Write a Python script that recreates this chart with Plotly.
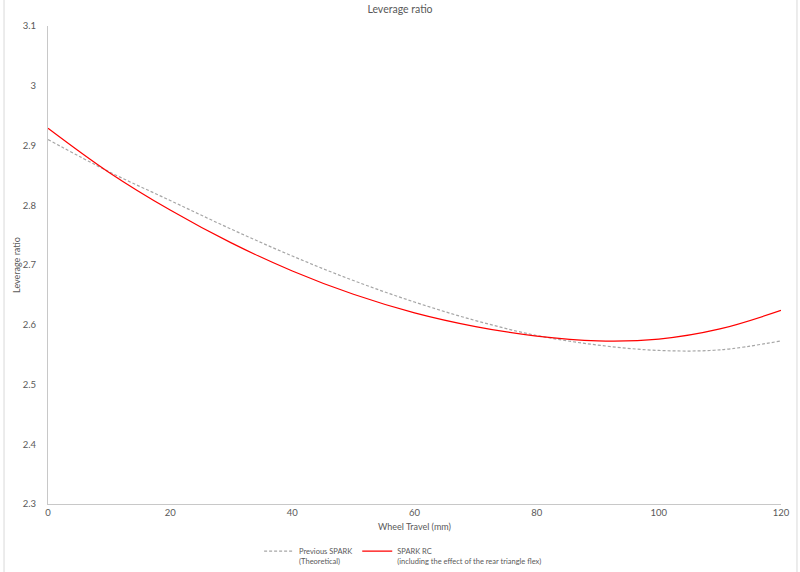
import plotly.graph_objects as go

travel = [0, 10, 20, 30, 40, 50, 60, 70, 80, 90, 100, 110, 120]
previous_spark = [2.910, 2.856, 2.808, 2.760, 2.715, 2.674, 2.638, 2.607, 2.582, 2.566, 2.557, 2.558, 2.573]
spark_rc = [2.929, 2.855, 2.792, 2.737, 2.690, 2.651, 2.620, 2.597, 2.581, 2.573, 2.576, 2.593, 2.624]

x_ticks = [0, 20, 40, 60, 80, 100, 120]
y_ticks = [2.3, 2.4, 2.5, 2.6, 2.7, 2.8, 2.9, 3.0, 3.1]
y_tick_text = ["2.3", "2.4", "2.5", "2.6", "2.7", "2.8", "2.9", "3", "3.1"]

txt = "#595959"
font = "Lato, Carlito, Calibri, sans-serif"

fig = go.Figure()
fig.add_trace(go.Scatter(
    x=travel, y=previous_spark, mode="lines", line_shape="spline",
    name="Previous SPARK<br>(Theoretical)",
    line=dict(color="#a6a6a6", width=1.2, dash="3px,2px"),
))
fig.add_trace(go.Scatter(
    x=travel, y=spark_rc, mode="lines", line_shape="spline",
    name="SPARK RC<br>(including the effect of the rear triangle flex)",
    line=dict(color="#ff0000", width=1.2),
))

fig.update_layout(
    width=800, height=572,
    margin=dict(l=48, r=19, t=26, b=68, autoexpand=False),
    paper_bgcolor="white", plot_bgcolor="white",
    font=dict(family=font, color=txt, size=10),
    title=dict(text="Leverage ratio", x=0.5, xanchor="center", y=0.99, yanchor="top",
               font=dict(size=10.5, color=txt, family=font)),
    showlegend=True,
    legend=dict(orientation="h", x=0.288, xanchor="left", y=-0.075, yanchor="top",
                valign="top", font=dict(size=7.5, color=txt), itemwidth=30,
                bgcolor="rgba(0,0,0,0)"),
    xaxis=dict(range=[0, 120], tickvals=x_ticks, showgrid=False, zeroline=False,
               showline=True, linecolor="#c8c8c8", linewidth=1, ticks="",
               tickfont=dict(size=9.5, color=txt), automargin=False,
               title=dict(text="Wheel Travel (mm)", font=dict(size=9, color=txt), standoff=6)),
    yaxis=dict(range=[2.3, 3.1], tickvals=y_ticks, ticktext=y_tick_text, showgrid=False,
               zeroline=False, showline=True, linecolor="#c8c8c8", linewidth=1, ticks="",
               tickfont=dict(size=9.5, color=txt), automargin=False, ticklabelstandoff=9,
               title=dict(text="Leverage ratio", font=dict(size=9, color=txt), standoff=0)),
    shapes=[
        dict(type="line", xref="paper", yref="paper", x0=-0.06, x1=-0.06, y0=-0.15, y1=1.06,
             line=dict(color="#d9d9d9", width=1)),
        dict(type="line", xref="paper", yref="paper", x0=1.0218, x1=1.0218, y0=-0.15, y1=1.06,
             line=dict(color="#d9d9d9", width=1)),
    ],
)

fig.write_html("out.html")
